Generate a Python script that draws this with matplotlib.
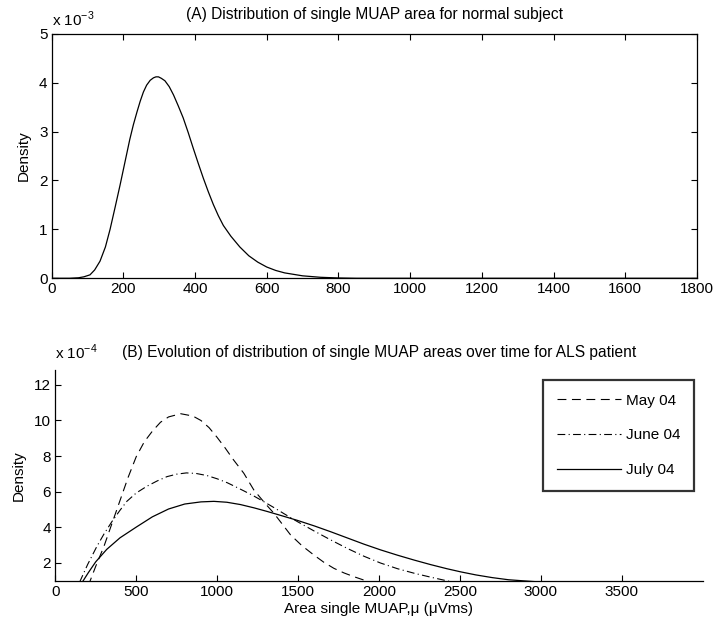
import matplotlib
matplotlib.use("Agg")
import matplotlib.pyplot as plt

plt.rcParams['font.family'] = ['Liberation Sans', 'DejaVu Sans']
plt.rcParams['font.size'] = 11
plt.rcParams['mathtext.fontset'] = 'custom'
plt.rcParams['mathtext.rm'] = 'Liberation Sans'

# (A) normal subject: area vs density (x 1e-3)
normal_area = [0, 50, 75, 90, 107, 120, 135, 150, 163, 177, 191, 200, 209, 218, 228, 238,
               247, 256, 265, 275, 284, 291, 298, 306, 316, 328, 340, 353, 367, 381, 395,
               409, 423, 437, 451, 465, 479, 500, 525, 550, 575, 600, 625, 650, 700, 750,
               800, 850, 1800]
normal_density = [0, 0, 0.01, 0.03, 0.07, 0.17, 0.35, 0.64, 1.00, 1.45, 1.91, 2.22, 2.53,
                  2.84, 3.14, 3.40, 3.62, 3.81, 3.95, 4.05, 4.10, 4.12, 4.12, 4.09, 4.04,
                  3.92, 3.75, 3.53, 3.28, 2.98, 2.66, 2.35, 2.05, 1.77, 1.51, 1.28, 1.08,
                  0.86, 0.64, 0.46, 0.33, 0.23, 0.16, 0.11, 0.05, 0.02, 0.006, 0, 0]

# (B) ALS patient, three recordings (density x 1e-4)
may_area = [200, 215, 250, 300, 350, 400, 450, 500, 550, 600, 650, 700, 775, 850, 900, 950,
            1000, 1050, 1100, 1165, 1227, 1300, 1351, 1400, 1454, 1525, 1598, 1660, 1722,
            1785, 1846, 1930]
may_density = [0.7, 0.97, 1.8, 2.9, 4.2, 5.5, 6.8, 7.96, 8.8, 9.4, 9.9, 10.2, 10.38, 10.25,
               10.0, 9.6, 9.05, 8.45, 7.8, 7.03, 6.09, 5.3, 4.78, 4.2, 3.56, 2.95, 2.43,
               2.02, 1.68, 1.42, 1.21, 0.95]

june_area = [150, 200, 256, 300, 349, 400, 442, 500, 566, 630, 690, 750, 810, 870, 938,
             1000, 1062, 1103, 1165, 1227, 1289, 1351, 1420, 1496, 1600, 1702, 1805, 1908,
             2010, 2115, 2220, 2322, 2435]
june_density = [0.9, 1.9, 2.9, 3.6, 4.3, 4.95, 5.45, 5.92, 6.3, 6.6, 6.84, 6.98, 7.05, 7.02,
                6.9, 6.72, 6.5, 6.32, 6.04, 5.75, 5.43, 5.1, 4.72, 4.31, 3.78, 3.28, 2.8,
                2.36, 1.98, 1.66, 1.40, 1.18, 0.95]

july_area = [170, 205, 250, 318, 400, 500, 600, 700, 800, 900, 980, 1060, 1144, 1230, 1310,
             1400, 1496, 1600, 1702, 1805, 1908, 2010, 2115, 2220, 2320, 2420, 2507, 2600,
             2700, 2800, 2890, 2970]
july_density = [0.95, 1.45, 2.05, 2.75, 3.4, 4.0, 4.58, 5.02, 5.3, 5.42, 5.45, 5.4, 5.27,
                5.08, 4.88, 4.64, 4.38, 4.07, 3.74, 3.39, 3.04, 2.72, 2.42, 2.14, 1.89, 1.66,
                1.48, 1.31, 1.16, 1.04, 0.98, 0.93]

series_labels = ['May 04', 'June 04', 'July 04']

fig = plt.figure(figsize=(7.2, 6.3), dpi=100)

# ---- panel A ----
axA = fig.add_axes([0.0717, 0.5583, 0.8963, 0.388])
axA.plot(normal_area, normal_density, color='black', lw=0.9)
axA.set_xlim(0, 1800)
axA.set_ylim(0, 5)
axA.set_xticks(range(0, 1801, 200))
axA.set_yticks(range(0, 6))
axA.tick_params(direction='in', top=True, right=True, length=4, width=0.8, pad=3)
for s in axA.spines.values():
    s.set_linewidth(0.9)
axA.set_ylabel('Density', labelpad=6)
axA.set_title('(A) Distribution of single MUAP area for normal subject', pad=11,
              fontsize=11.2)
axA.text(0.0, 1.02, r'x 10$^{-3}$', transform=axA.transAxes, ha='left', va='bottom')

# ---- panel B ----
axB = fig.add_axes([0.0768, 0.0778, 0.899, 0.3349])
lm, = axB.plot(may_area, may_density, color='black', lw=0.8, dashes=(8, 5))
lj, = axB.plot(june_area, june_density, color='black', lw=0.8, dashes=(7, 3, 1, 3))
ll, = axB.plot(july_area, july_density, color='black', lw=0.9)
axB.set_xlim(0, 4000)
axB.set_ylim(0.97, 12.84)
axB.set_xticks(range(0, 3501, 500))
axB.set_yticks(range(2, 13, 2))
axB.spines['top'].set_visible(False)
axB.spines['right'].set_visible(False)
for s in ('left', 'bottom'):
    axB.spines[s].set_linewidth(0.9)
axB.tick_params(direction='in', length=4, width=0.8, pad=3)
axB.set_ylabel('Density', labelpad=6)
axB.set_xlabel('Area single MUAP,\u03bc (\u03bcVms)', labelpad=2)
axB.set_title('(B) Evolution of distribution of single MUAP areas over time for ALS patient',
              pad=9, fontsize=11.2)
axB.text(0.0, 1.04, r'x 10$^{-4}$', transform=axB.transAxes, ha='left', va='bottom')

leg = axB.legend([lm, lj, ll], series_labels, loc='upper right',
                 bbox_to_anchor=(0.9866, 0.9526), frameon=True, fancybox=False,
                 handlelength=4.2, handletextpad=0.3, labelspacing=1.35,
                 borderpad=0.9, borderaxespad=0)
leg.get_frame().set_edgecolor('black')
leg.get_frame().set_linewidth(1.6)

fig.savefig('out.png', dpi=100)
